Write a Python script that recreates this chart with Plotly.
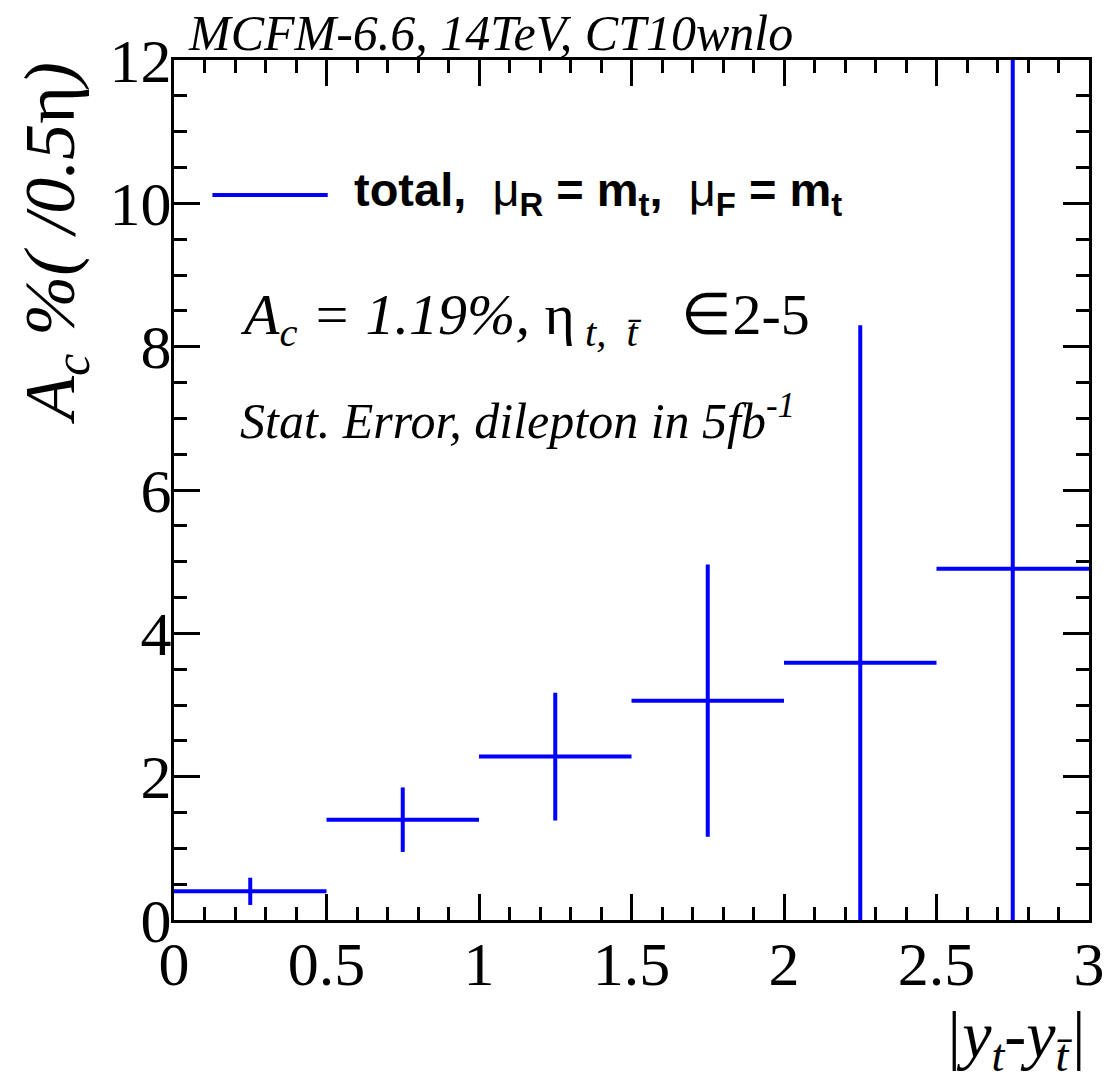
import plotly.graph_objects as go

# Data
bin_centers = [0.25, 0.75, 1.25, 1.75, 2.25, 2.75]
bin_half_widths = [0.25, 0.25, 0.25, 0.25, 0.25, 0.25]
ac_values = [0.40, 1.40, 2.28, 3.06, 3.59, 4.90]
ac_errors = [0.19, 0.45, 0.89, 1.90, 4.71, 7.40]

x_ticks = [0, 0.5, 1, 1.5, 2, 2.5, 3]
x_tick_labels = ["0", "0.5", "1", "1.5", "2", "2.5", "3"]
y_ticks = [0, 2, 4, 6, 8, 10, 12]
y_tick_labels = ["0", "2", "4", "6", "8", "10", "12"]

BLUE = "#0000ff"
SERIF = "Liberation Serif, Times New Roman, serif"
SANS = "Liberation Sans, Arial, sans-serif"

fig = go.Figure()
fig.add_trace(go.Scatter(
    x=bin_centers, y=ac_values, mode="markers",
    marker=dict(size=1, color=BLUE, opacity=0),
    error_x=dict(type="data", array=bin_half_widths, color=BLUE, thickness=4, width=0),
    error_y=dict(type="data", array=ac_errors, color=BLUE, thickness=4, width=0),
    showlegend=False, cliponaxis=True,
))

axis_common = dict(
    showgrid=False, zeroline=False, showline=True, linecolor="black", linewidth=3,
    mirror="allticks", ticks="inside", ticklen=26, tickwidth=2.5, tickcolor="black",
    tickfont=dict(family=SERIF, size=62, color="black"), automargin=False,
)

fig.update_xaxes(
    range=[0, 3], tickvals=x_ticks, ticktext=x_tick_labels, ticklabelstandoff=-12,
    minor=dict(dtick=0.1, ticks="inside", ticklen=13, tickwidth=2.5, tickcolor="black"),
    **axis_common,
)
fig.update_yaxes(
    range=[0, 12], tickvals=y_ticks, ticktext=y_tick_labels, ticklabelstandoff=-13,
    minor=dict(dtick=0.5, ticks="inside", ticklen=13, tickwidth=2.5, tickcolor="black"),
    **axis_common,
)

annotations = [
    dict(text="<i>MCFM-6.6, 14TeV, CT10wnlo</i>", xref="paper", yref="paper",
         x=0.013, y=1.0, xanchor="left", yanchor="middle", yshift=27, showarrow=False,
         font=dict(family=SERIF, size=50, color="black")),
    dict(text="<i>A<sub>c</sub> %( /0.5</i>η<i>)</i>", xref="paper", yref="paper",
         x=-0.13, y=1.0, xanchor="center", yanchor="top", textangle=-90, showarrow=False,
         font=dict(family=SERIF, size=72, color="black")),
    dict(text="<i>|y<sub>t</sub>-y<sub>t̄</sub>|</i>", xref="paper", yref="paper",
         x=1.0, y=-0.088, xanchor="right", yanchor="top", showarrow=False,
         font=dict(family=SERIF, size=66, color="black")),
    dict(text="<i>A<sub>c</sub> = 1.19%, </i>η<sub><i> t,  t̄</i></sub>   ∈2-5", xref="paper", yref="paper",
         x=0.07, y=0.70, xanchor="left", yanchor="middle", showarrow=False,
         font=dict(family=SERIF, size=58, color="black")),
    dict(text="<i>Stat. Error, dilepton in 5fb<sup>-1</sup></i>", xref="paper", yref="paper",
         x=0.07, y=0.584, xanchor="left", yanchor="middle", showarrow=False,
         font=dict(family=SERIF, size=50, color="black")),
    dict(text="<b>total,</b>  μ<b><sub>R</sub> = m<sub>t</sub>,</b>  μ<b><sub>F</sub> = m<sub>t</sub></b>",
         xref="paper", yref="paper",
         x=0.195, y=0.845, xanchor="left", yanchor="middle", showarrow=False,
         font=dict(family=SANS, size=47, color="black")),
]

fig.update_layout(
    width=1106, height=1084,
    margin=dict(l=174, r=17, t=60, b=164),
    paper_bgcolor="white", plot_bgcolor="white",
    annotations=annotations,
    shapes=[dict(type="line", xref="paper", yref="paper", x0=0.042, x1=0.168,
                 y0=0.843, y1=0.843, line=dict(color=BLUE, width=4))],
    showlegend=False,
)

fig.write_html("out.html")
